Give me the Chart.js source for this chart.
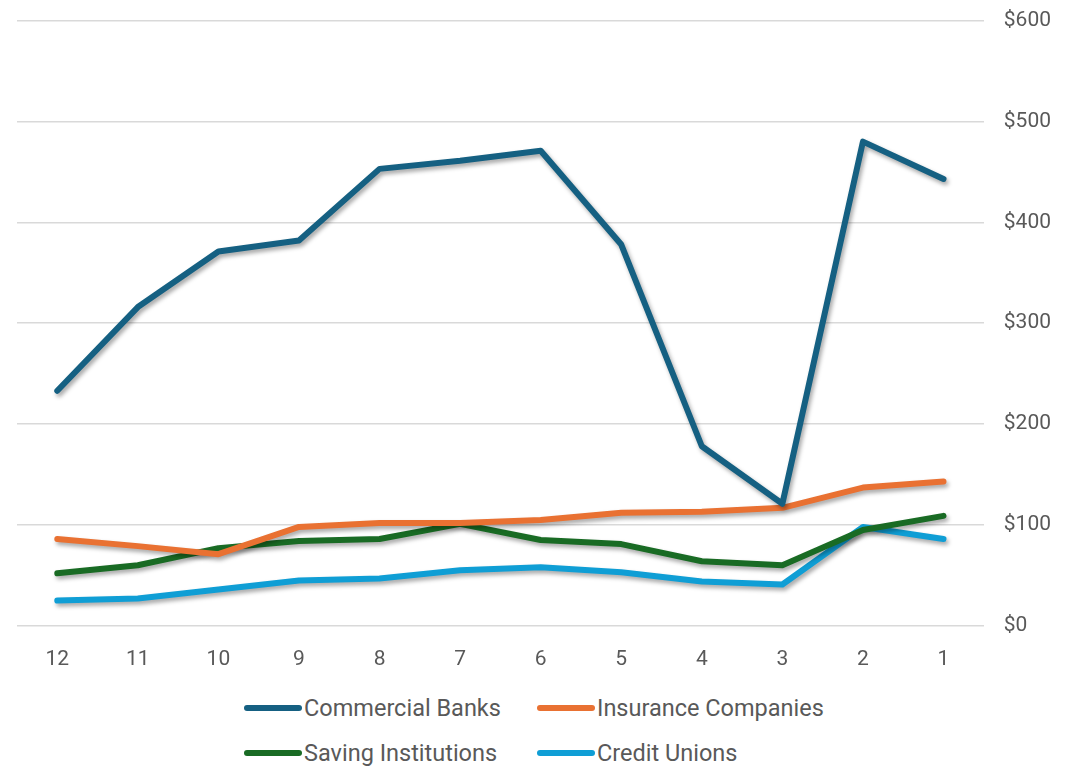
<!DOCTYPE html>
<html>
<head>
<meta charset="utf-8">
<script src="https://cdn.jsdelivr.net/npm/chart.js@4"></script>
<style>
  body { margin: 0; background: #fff; font-family: Roboto, "Open Sans", sans-serif; }
  #wrap { position: relative; width: 1091px; height: 766px; overflow: hidden; }
  #chart { position: absolute; left: 0; top: -12px; }
  #legend { position: absolute; left: 244px; top: 692px; width: 720px; display: grid;
    grid-template-columns: 293px 330px; row-gap: 13px; color: #595959; font-size: 23.5px; }
  .item { display: flex; align-items: center; height: 32px; }
  .item i { display: inline-block; width: 58px; height: 6px; border-radius: 3px; margin-right: 2px; }
</style>
</head>
<body>
<div id="wrap">
  <canvas id="chart" width="1091" height="697"></canvas>
  <div id="legend"></div>
</div>
<script>
const months = ["12", "11", "10", "9", "8", "7", "6", "5", "4", "3", "2", "1"];
const commercialBanks = [233, 316, 371, 382, 453, 461, 471, 378, 178, 121, 480, 443];
const insuranceCompanies = [86, 79, 71, 98, 102, 102, 105, 112, 113, 117, 137, 143];
const savingInstitutions = [52, 60, 77, 84, 86, 101, 85, 81, 64, 60, 95, 109];
const creditUnions = [25, 27, 36, 45, 47, 55, 58, 53, 44, 41, 98, 86];
const yTicks = [0, 100, 200, 300, 400, 500, 600];

const series = [
  { label: "Commercial Banks", data: commercialBanks, color: "#156082" },
  { label: "Insurance Companies", data: insuranceCompanies, color: "#E97132" },
  { label: "Saving Institutions", data: savingInstitutions, color: "#196B24" },
  { label: "Credit Unions", data: creditUnions, color: "#0F9ED5" },
];

const shadow = {
  id: "shadow",
  beforeDatasetsDraw(chart) {
    const ctx = chart.ctx;
    ctx.save();
    ctx.shadowColor = "rgba(0,0,0,0.35)";
    ctx.shadowBlur = 4;
    ctx.shadowOffsetX = 2;
    ctx.shadowOffsetY = 3;
  },
  afterDatasetsDraw(chart) {
    chart.ctx.restore();
  },
};

new Chart(document.getElementById("chart"), {
  type: "line",
  data: {
    labels: months,
    datasets: series.map((s) => ({
      label: s.label,
      data: s.data,
      borderColor: s.color,
      backgroundColor: s.color,
      borderWidth: 6,
      borderCapStyle: "round",
      borderJoinStyle: "round",
      pointRadius: 0,
      tension: 0,
    })),
  },
  options: {
    responsive: false,
    animation: false,
    layout: { padding: { left: 17, right: 20, top: 0, bottom: 0 } },
    plugins: { legend: { display: false }, tooltip: { enabled: false } },
    scales: {
      x: {
        offset: true,
        grid: { display: false },
        border: { display: false },
        ticks: { color: "#595959", font: { size: 21, family: "Roboto" }, padding: 13, maxRotation: 0 },
      },
      y: {
        position: "right",
        min: 0,
        max: 600,
        afterBuildTicks: (axis) => { axis.ticks = yTicks.map((v) => ({ value: v })); },
        grid: { color: "#d9d9d9", lineWidth: 1.5, drawTicks: false },
        border: { display: false },
        ticks: { color: "#595959", font: { size: 21, family: "Roboto" }, padding: 20, callback: (v) => "$" + v },
      },
    },
  },
  plugins: [shadow],
});

document.getElementById("legend").innerHTML = series
  .map((s) => `<div class="item"><i style="background:${s.color}"></i>${s.label}</div>`)
  .join("");
</script>
</body>
</html>
